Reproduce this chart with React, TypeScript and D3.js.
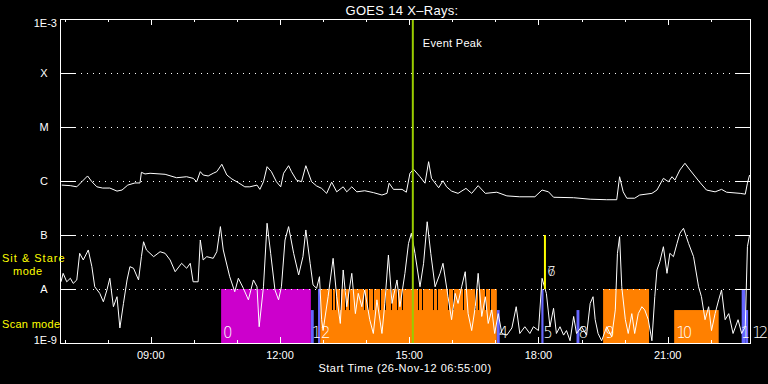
import React from 'react';
import * as d3 from 'd3';

// ---------- data ----------
const TITLE = 'GOES 14 X\u2013Rays:';
const START_LABEL = 'Start Time (26-Nov-12 06:55:00)';
const START_MINUTE = 6 * 60 + 55; // 06:55
const SPAN_MINUTES = 961;

const CLASS_LEVELS = [1e-8, 1e-7, 1e-6, 1e-5, 1e-4];
const CLASS_NAMES = ['A', 'B', 'C', 'M', 'X'];
const HOURS = [7, 8, 9, 10, 11, 12, 13, 14, 15, 16, 17, 18, 19, 20, 21, 22];

// 1-8 A channel: minutes after start, flux in units of 1e-6 W/m^2
const LONG_T = [1, 13, 22, 29, 37, 43, 50, 58, 68, 78, 85, 93, 103, 110, 112, 117, 124, 145, 161, 175, 184, 189, 194, 198, 205, 212, 217, 224, 231, 238, 247, 256, 263, 273, 277, 282, 287, 293, 300, 306, 310, 317, 321, 328, 335, 341, 349, 356, 363, 370, 377, 384, 393, 398, 405, 412, 423, 435, 447, 454, 457, 463, 475, 481, 486, 491, 500, 507, 512, 516, 526, 532, 537, 544, 553, 564, 572, 581, 591, 607, 621, 639, 660, 670, 679, 686, 714, 737, 760, 774, 778, 783, 788, 799, 806, 823, 830, 839, 846, 851, 855, 862, 869, 876, 889, 899, 911, 920, 927, 946, 953, 956, 959];
const LONG_V = [0.84, 0.82, 0.78, 0.97, 1.24, 0.97, 0.78, 0.74, 0.74, 0.65, 0.68, 0.84, 0.92, 0.92, 1.45, 1.35, 1.39, 1.33, 1.15, 1.2, 1.12, 0.97, 1.49, 1.29, 1.24, 1.39, 1.49, 2.04, 1.29, 1.09, 0.93, 0.78, 0.78, 0.84, 0.7, 0.97, 1.84, 1.49, 0.97, 0.78, 1.39, 1.92, 1.49, 1.04, 0.97, 1.92, 0.97, 0.81, 0.73, 0.59, 0.95, 0.63, 0.78, 0.63, 0.78, 0.63, 0.66, 0.61, 0.55, 0.59, 0.91, 0.7, 0.7, 0.62, 1.39, 1.65, 1.2, 0.91, 2.28, 1.12, 0.75, 1.01, 0.78, 0.65, 0.59, 0.73, 0.59, 0.82, 0.59, 0.62, 0.53, 0.51, 0.51, 0.68, 0.63, 0.5, 0.49, 0.46, 0.45, 0.45, 1.2, 0.63, 0.48, 0.48, 0.55, 0.59, 0.68, 1.12, 0.97, 1.2, 1.04, 1.6, 2.13, 1.6, 0.97, 0.68, 0.63, 0.7, 0.62, 0.59, 0.57, 0.91, 1.29];

// 0.5-4 A channel: minutes after start, flux in units of 1e-8 W/m^2
const SHORT_T = [0, 3, 8, 13, 17, 22, 26, 31, 38, 43, 47, 54, 59, 64, 68, 73, 78, 82, 87, 92, 96, 101, 108, 112, 115, 119, 129, 138, 145, 152, 159, 168, 175, 180, 184, 191, 194, 198, 203, 212, 217, 222, 226, 235, 242, 247, 254, 261, 268, 273, 276, 282, 287, 292, 298, 303, 307, 312, 317, 324, 331, 337, 341, 347, 351, 356, 360, 363, 365, 372, 379, 384, 389, 393, 398, 405, 410, 414, 419, 423, 430, 435, 440, 447, 451, 456, 461, 468, 472, 479, 484, 488, 493, 500, 505, 510, 515, 521, 528, 532, 539, 544, 549, 553, 558, 563, 567, 572, 577, 581, 586, 591, 595, 600, 604, 609, 614, 621, 628, 634, 639, 646, 653, 658, 665, 670, 676, 681, 686, 690, 695, 700, 704, 709, 714, 718, 725, 732, 737, 741, 744, 748, 753, 760, 767, 772, 775, 778, 781, 786, 790, 795, 799, 804, 809, 813, 818, 823, 827, 830, 834, 839, 844, 848, 853, 858, 862, 867, 874, 881, 888, 892, 897, 902, 906, 911, 916, 920, 925, 930, 936, 943, 948, 953, 956, 959];
const SHORT_V = [1.36, 1.95, 1.36, 1.58, 1.27, 1.47, 4.58, 3.45, 5.28, 2.59, 1.1, 0.83, 0.58, 0.96, 1.58, 0.47, 0.72, 0.19, 0.54, 1.47, 2.59, 2.42, 1.47, 3.97, 7.5, 5.28, 3.97, 4.9, 4.58, 3.45, 2.09, 2.99, 2.42, 2.99, 1.36, 1.36, 8.08, 3.45, 3.97, 3.7, 4.9, 14.3, 5.28, 1.69, 0.89, 1.58, 1.03, 0.63, 1.47, 1.1, 0.2, 1.1, 16.5, 4.58, 0.96, 0.63, 1.1, 8.08, 14.3, 4.58, 1.82, 3.97, 12.4, 2.99, 1.19, 1.03, 1.69, 0.27, 0.17, 0.72, 3.7, 0.72, 0.23, 2.25, 0.47, 1.95, 0.35, 0.83, 0.47, 0.96, 0.27, 0.15, 0.63, 0.15, 0.54, 4.26, 0.54, 1.47, 0.47, 1.95, 7.0, 10.8, 4.58, 1.1, 2.99, 17.6, 4.58, 1.1, 1.95, 2.99, 0.72, 0.27, 0.83, 0.54, 1.1, 2.09, 0.35, 0.17, 0.47, 1.95, 0.31, 0.72, 0.23, 0.41, 0.15, 0.35, 0.15, 0.14, 0.19, 0.47, 0.15, 0.2, 0.15, 0.2, 0.17, 1.58, 0.83, 0.2, 0.44, 0.15, 0.2, 0.14, 0.17, 0.11, 0.31, 0.15, 0.2, 0.14, 0.54, 0.72, 0.27, 0.15, 0.11, 0.2, 0.13, 0.41, 4.58, 9.3, 1.1, 0.27, 0.15, 0.35, 0.15, 0.35, 0.47, 0.41, 0.27, 0.11, 0.72, 2.25, 3.2, 6.07, 1.95, 4.58, 3.97, 7.0, 10.8, 13.3, 7.0, 3.97, 1.1, 0.72, 0.27, 0.47, 0.17, 0.35, 0.63, 0.96, 0.27, 0.35, 0.15, 0.27, 0.15, 0.2, 6.07, 10.0];

// observation blocks (minutes after start)
const BLOCK_START = [223, 348, 358, 361, 607, 669, 718, 755, 854, 948, 953];
const BLOCK_END = [348, 352, 361, 607, 611, 672, 722, 819, 916, 953, 957];
const BLOCK_MODE = ['stare', 'scan', 'stare', 'stare', 'scan', 'stare', 'scan', 'stare', 'scan', 'stare', 'scan'];
const BLOCK_KIND = ['magenta', 'blue', 'blue', 'orange', 'blue', 'blue', 'blue', 'orange', 'orange', 'blue', 'blue'];
const BLOCK_LABEL = ['0', '1', '2', '', '4', '5', '8', '9', '10', '1', '12'];
const BLOCK_LABEL_SHIFT = [0, -1, 1, 0, 0, 0, 0, 0, 0, -3, 5];

// gaps inside block 3
const GAP_T = [377, 382, 389, 396, 401, 422, 428, 435, 444, 451, 460, 468, 475, 497, 503, 518, 524, 539, 546, 560, 577, 581, 590, 598];

// event markers
const EVENT_PEAK_T = 490;
const STARE_EVENT_T = 674;
const STARE_EVENT_LABELS = ['6', '7'];

const COLORS: Record<string, string> = {
  magenta: '#cc00cc',
  orange: '#ff8000',
  blue: '#6666ff',
};

// ---------- chart ----------
const W = 768;
const H = 384;
const L = 61;
const R = 751;
const T = 19;
const B = 343;
const FONT = '"Liberation Sans", Arial, sans-serif';

export default function App() {
  const x = d3.scaleLinear().domain([0, SPAN_MINUTES]).range([L, R]);
  const y = d3.scaleLog().domain([1e-9, 1e-3]).range([B, T]);

  const longData = LONG_T.map((t, i) => [t, LONG_V[i] * 1e-6] as [number, number]);
  const shortData = SHORT_T.map((t, i) => [t, SHORT_V[i] * 1e-8] as [number, number]);
  const line = d3
    .line<[number, number]>()
    .x((d) => x(d[0]))
    .y((d) => y(d[1]));

  const stareTop = 1e-8;
  const scanTop = Math.pow(10, -8.39);
  const px = (v: number) => Math.round(v) + 0.5;

  return (
    <svg
      width={W}
      height={H}
      style={{ position: 'absolute', left: 0, top: 0, background: '#000' }}
    >
      <rect x={0} y={0} width={W} height={H} fill="#000" />
      <defs>
        <clipPath id="plot">
          <rect x={L} y={T} width={R - L} height={B - T} />
        </clipPath>
      </defs>

      {/* observation blocks */}
      {BLOCK_START.map((s, i) => {
        const top = BLOCK_MODE[i] === 'stare' ? stareTop : scanTop;
        return (
          <rect
            key={'b' + i}
            x={x(s)}
            y={y(top)}
            width={Math.max(1, x(BLOCK_END[i]) - x(s))}
            height={y(1e-9) - y(top)}
            fill={COLORS[BLOCK_KIND[i]]}
          />
        );
      })}
      {GAP_T.map((g, i) => (
        <line
          key={'g' + i}
          x1={px(x(g))}
          x2={px(x(g))}
          y1={y(stareTop)}
          y2={y(scanTop)}
          stroke="#000"
          strokeWidth={1}
        />
      ))}

      {/* dotted grid */}
      {CLASS_LEVELS.map((v, i) => (
        <g key={'gl' + i}>
          <line
            x1={L + 14}
            x2={R - 15}
            y1={px(y(v))}
            y2={px(y(v))}
            stroke="#fff"
            strokeWidth={1}
            strokeDasharray="1,5"
          />
          <line x1={L} x2={L + 14} y1={px(y(v))} y2={px(y(v))} stroke="#fff" strokeWidth={1} />
          <line x1={R - 15} x2={R} y1={px(y(v))} y2={px(y(v))} stroke="#fff" strokeWidth={1} />
          <text
            x={44}
            y={y(v) + 4}
            fill="#fff"
            fontSize={11}
            fontFamily={FONT}
            textAnchor="middle"
          >
            {CLASS_NAMES[i]}
          </text>
        </g>
      ))}

      {/* block labels */}
      {BLOCK_START.map((s, i) =>
        BLOCK_LABEL[i] ? (
          <text
            key={'bl' + i}
            x={x(s) + 2 + BLOCK_LABEL_SHIFT[i]}
            y={338}
            fill="#fff"
            fontSize={15}
            fontFamily='"DejaVu Sans", sans-serif'
            fontWeight={200}
            letterSpacing={BLOCK_LABEL[i].length > 1 ? -3 : 0}
          >
            {BLOCK_LABEL[i]}
          </text>
        ) : null
      )}

      {/* curves */}
      <g clipPath="url(#plot)">
        <path d={line(longData) || ''} fill="none" stroke="#fff" strokeWidth={1} />
        <path d={line(shortData) || ''} fill="none" stroke="#fff" strokeWidth={1} />
      </g>

      {/* event markers */}
      <line
        x1={x(EVENT_PEAK_T)}
        x2={x(EVENT_PEAK_T)}
        y1={T}
        y2={B}
        stroke="#99cc00"
        strokeWidth={2}
      />
      <text x={x(EVENT_PEAK_T) + 10} y={47} fill="#fff" fontSize={11} fontFamily={FONT} letterSpacing={0.3}>
        Event Peak
      </text>
      <line
        x1={x(STARE_EVENT_T)}
        x2={x(STARE_EVENT_T)}
        y1={y(1e-7)}
        y2={y(1e-8)}
        stroke="#ffff00"
        strokeWidth={2}
      />
      {STARE_EVENT_LABELS.map((lab, i) => (
        <text
          key={'se' + i}
          x={x(STARE_EVENT_T) + 2}
          y={276}
          fill="#fff"
          fontSize={14}
          fontFamily='"DejaVu Sans", sans-serif'
          fontWeight={200}
        >
          {lab}
        </text>
      ))}

      {/* frame */}
      <rect x={L - 0.5} y={T + 0.5} width={R - L} height={B - T} fill="none" stroke="#fff" strokeWidth={1} />

      {/* time ticks */}
      {HOURS.map((h) => {
        const m = h * 60 - START_MINUTE;
        const major = h % 3 === 0;
        const len = major ? 6 : 3;
        const xx = px(x(m));
        return (
          <g key={'h' + h}>
            <line x1={xx} x2={xx} y1={B} y2={B - len} stroke="#fff" strokeWidth={1} />
            <line x1={xx} x2={xx} y1={T} y2={T + len} stroke="#fff" strokeWidth={1} />
            {major ? (
              <text
                x={x(m)}
                y={359}
                fill="#fff"
                fontSize={11}
                fontFamily={FONT}
                textAnchor="middle"
              >
                {d3.format('02')(h) + ':00'}
              </text>
            ) : null}
          </g>
        );
      })}

      {/* y extreme labels */}
      <text x={57} y={y(1e-3) + 8} fill="#fff" fontSize={11} fontFamily={FONT} textAnchor="end">
        1E-3
      </text>
      <text x={57} y={y(1e-9) + 1} fill="#fff" fontSize={11} fontFamily={FONT} textAnchor="end">
        1E-9
      </text>

      {/* mode labels */}
      <text x={2} y={262} fill="#ffff00" fontSize={11} fontFamily={FONT} letterSpacing={1}>
        Sit &amp; Stare
      </text>
      <text x={13} y={275} fill="#ffff00" fontSize={11} fontFamily={FONT} letterSpacing={0.5}>
        mode
      </text>
      <text x={2} y={328} fill="#ffff00" fontSize={11} fontFamily={FONT} letterSpacing={0.3}>
        Scan mode
      </text>

      {/* titles */}
      <text x={402} y={15} fill="#fff" fontSize={13} fontFamily={FONT} textAnchor="middle" letterSpacing={0.3}>
        {TITLE}
      </text>
      <text x={405} y={372} fill="#fff" fontSize={11} fontFamily={FONT} textAnchor="middle" letterSpacing={0.5}>
        {START_LABEL}
      </text>
    </svg>
  );
}
